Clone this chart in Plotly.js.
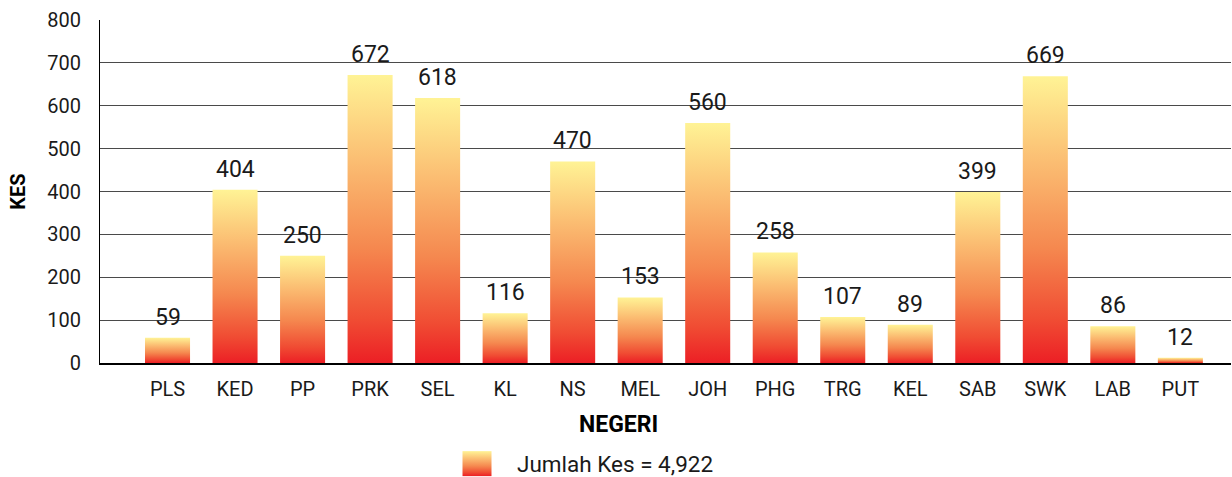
<!DOCTYPE html>
<html><head><meta charset="utf-8">
<script src="https://cdn.plot.ly/plotly-3.0.1.min.js"></script>
<style>html,body{margin:0;padding:0;background:#fff}#chart{width:1232px;height:477px}</style>
</head><body><div id="chart"></div>
<script>
const categories = ['PLS','KED','PP','PRK','SEL','KL','NS','MEL','JOH','PHG','TRG','KEL','SAB','SWK','LAB','PUT'];
const cases = [59,404,250,672,618,116,470,153,560,258,107,89,399,669,86,12];
const seriesName = 'Jumlah Kes = 4,922';
const yTicks = [0,100,200,300,400,500,600,700,800];
const xTitle = 'NEGERI';
const yTitle = 'KES';

const FONT = 'Roboto, "Noto Sans", sans-serif';

const trace = {
  type: 'bar',
  x: categories,
  y: cases,
  name: seriesName,
  marker: {color: '#f5914e', line: {width: 0}},
  hoverinfo: 'x+y',
  showlegend: true
};

const annotations = categories.map((c, i) => ({
  x: c, y: cases[i], xref: 'x', yref: 'y',
  text: String(cases[i]), showarrow: false,
  yanchor: 'bottom', yshift: 5,
  font: {family: FONT, size: 23, color: '#1a1a1a'}
}));
annotations.push({
  xref: 'paper', yref: 'paper', x: (618 - 100) / 1131, y: (363 - 425) / 343,
  xanchor: 'center', yanchor: 'middle', showarrow: false, text: xTitle,
  font: {family: FONT, size: 23, weight: 'bold', color: '#000'}
});

const layout = {
  width: 1232, height: 477,
  margin: {l: 100, r: 1, t: 20, b: 114},
  paper_bgcolor: '#ffffff', plot_bgcolor: '#ffffff',
  font: {family: FONT, color: '#1a1a1a'},
  bargap: 0.333,
  showlegend: true,
  legend: {
    orientation: 'h', xref: 'container', yref: 'container',
    x: 457/1232, xanchor: 'left', y: 1 - 464/477, yanchor: 'middle',
    font: {family: FONT, size: 22.5, color: '#1a1a1a'},
    bgcolor: 'rgba(0,0,0,0)', borderwidth: 0
  },
  xaxis: {
    type: 'category', categoryorder: 'array', categoryarray: categories,
    range: [-1, 15.75], fixedrange: true,
    showline: true, linecolor: '#000', linewidth: 1.5,
    showgrid: false, ticks: '', ticklabelstandoff: 7,
    tickfont: {family: FONT, size: 20, color: '#1a1a1a'}
  },
  yaxis: {
    range: [0, 800], tickvals: yTicks, ticktext: yTicks.map(String), fixedrange: true,
    showline: true, linecolor: '#000', linewidth: 1,
    showgrid: true, gridcolor: '#4a4a4a', gridwidth: 1,
    zeroline: false, ticks: '', ticklabelstandoff: 14,
    tickfont: {family: FONT, size: 20, color: '#1a1a1a'},
    title: {text: yTitle, standoff: 16, font: {family: FONT, size: 20, weight: 'bold', color: '#000'}}
  },
  annotations: annotations
};

Plotly.newPlot('chart', [trace], layout, {displayModeBar: false, staticPlot: true}).then(gd => {
  const ns = 'http://www.w3.org/2000/svg';
  const svg = gd.querySelector('svg.main-svg');
  let defs = svg.querySelector('defs');
  if (!defs) { defs = document.createElementNS(ns, 'defs'); svg.insertBefore(defs, svg.firstChild); }
  const lg = document.createElementNS(ns, 'linearGradient');
  lg.setAttribute('id', 'barGrad');
  lg.setAttribute('x1', '0'); lg.setAttribute('y1', '0');
  lg.setAttribute('x2', '0'); lg.setAttribute('y2', '1');
  [['0%', '#fff395'], ['30%', '#fbbd72'], ['60%', '#f5884f'], ['85%', '#f04c33'], ['100%', '#ec1f25']].forEach(([o, c]) => {
    const s = document.createElementNS(ns, 'stop');
    s.setAttribute('offset', o); s.setAttribute('stop-color', c);
    lg.appendChild(s);
  });
  defs.appendChild(lg);
  gd.querySelectorAll('.barlayer .point path').forEach(p => { p.style.fill = 'url(#barGrad)'; });
  gd.querySelectorAll('.legend [clip-path]').forEach(el => el.removeAttribute('clip-path'));
  gd.querySelectorAll('.legend .legendpoints path').forEach(p => {
    p.setAttribute('d', 'M14.5,12.5H-14.5V-12.5H14.5Z');
    p.style.fill = 'url(#barGrad)';
    p.style.stroke = 'none';
  });
  gd.querySelectorAll('.legend text.legendtext').forEach(t => { t.setAttribute('x', '60'); });
});
</script>
</body></html>
